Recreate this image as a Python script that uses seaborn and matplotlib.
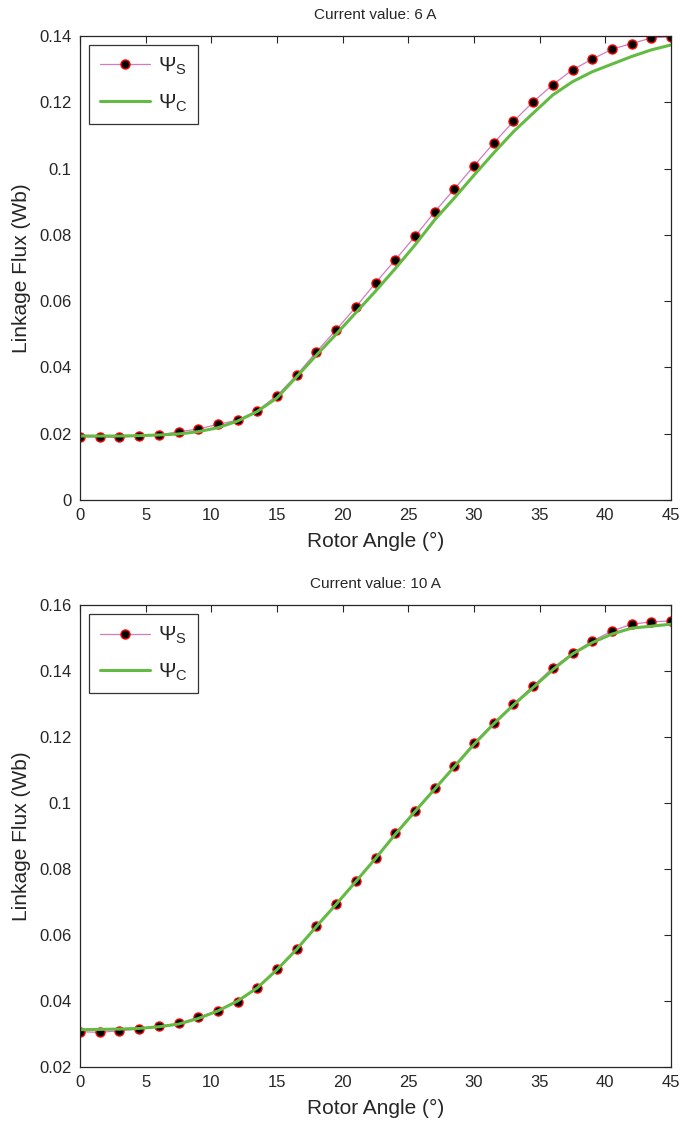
import numpy as np
import pandas as pd
import matplotlib
matplotlib.use('Agg')
import matplotlib.pyplot as plt
from matplotlib.ticker import FuncFormatter
import seaborn as sns

# rotor angle (deg), one sample every 1.5 deg
angle = [0, 1.5, 3, 4.5, 6, 7.5, 9, 10.5, 12, 13.5, 15, 16.5, 18, 19.5, 21, 22.5,
         24, 25.5, 27, 28.5, 30, 31.5, 33, 34.5, 36, 37.5, 39, 40.5, 42, 43.5, 45]

# 6 A : Psi_S (markers) and Psi_C (green)
psi_s_6 = [0.0191, 0.0189, 0.0189, 0.0193, 0.0196, 0.0206, 0.0214, 0.0228, 0.0241, 0.0269,
           0.0315, 0.0377, 0.0447, 0.0513, 0.0582, 0.0655, 0.0724, 0.0795, 0.0869, 0.0938,
           0.1008, 0.1077, 0.1142, 0.1201, 0.1253, 0.1298, 0.1330, 0.1360, 0.1377, 0.1394, 0.1398]
psi_c_6 = [0.0193, 0.0193, 0.0193, 0.0194, 0.0196, 0.0199, 0.0206, 0.0218, 0.0238, 0.0267,
           0.0308, 0.0372, 0.0437, 0.0500, 0.0565, 0.0630, 0.0698, 0.0769, 0.0845, 0.0911,
           0.0980, 0.1047, 0.1111, 0.1167, 0.1222, 0.1262, 0.1292, 0.1315, 0.1338, 0.1358, 0.1373]

# 10 A
psi_s_10 = [0.0307, 0.0305, 0.0310, 0.0315, 0.0324, 0.0332, 0.0351, 0.0371, 0.0398, 0.0438,
            0.0496, 0.0558, 0.0628, 0.0694, 0.0764, 0.0834, 0.0908, 0.0977, 0.1045, 0.1112,
            0.1183, 0.1243, 0.1300, 0.1355, 0.1410, 0.1454, 0.1491, 0.1521, 0.1542, 0.1549, 0.1552]
psi_c_10 = [0.0313, 0.0314, 0.0315, 0.0317, 0.0322, 0.0330, 0.0347, 0.0370, 0.0400, 0.0440,
            0.0495, 0.0557, 0.0626, 0.0693, 0.0762, 0.0832, 0.0905, 0.0974, 0.1042, 0.1110,
            0.1178, 0.1240, 0.1297, 0.1350, 0.1404, 0.1452, 0.1486, 0.1512, 0.1530, 0.1536, 0.1542]

currents = ['6 A', '10 A']
ylims = [(0, 0.14), (0.02, 0.16)]

sns.set_style('white')
plt.rcParams['font.family'] = ['Liberation Sans', 'DejaVu Sans']
plt.rcParams['mathtext.fontset'] = 'custom'
plt.rcParams['mathtext.rm'] = 'Liberation Sans'
plt.rcParams['mathtext.it'] = 'Liberation Sans'

fig = plt.figure(figsize=(6.82, 11.24), dpi=100)
ax1 = fig.add_axes([0.1173, 0.5552, 0.8666, 0.4128])
ax2 = fig.add_axes([0.1173, 0.0507, 0.8666, 0.4110])

data = [(psi_s_6, psi_c_6), (psi_s_10, psi_c_10)]

for ax, (ps, pc), cur, yl in zip([ax1, ax2], data, currents, ylims):
    df = pd.DataFrame({'angle': angle, 'psi_s': ps, 'psi_c': pc})
    sns.lineplot(data=df, x='angle', y='psi_s', ax=ax, color='#d27cc0', linewidth=0.9,
                 marker='o', markersize=6.5, markerfacecolor='black',
                 markeredgecolor='red', markeredgewidth=1.0, label=r'$\Psi_\mathrm{S}$')
    sns.lineplot(data=df, x='angle', y='psi_c', ax=ax, color='#63bb43', linewidth=2.2,
                 label=r'$\Psi_\mathrm{C}$')
    ax.set_xlim(0, 45)
    ax.set_ylim(*yl)
    ax.set_xticks(range(0, 46, 5))
    ax.set_yticks(np.arange(yl[0], yl[1] + 0.001, 0.02))
    ax.yaxis.set_major_formatter(FuncFormatter(lambda v, p: '%g' % round(v, 3)))
    ax.tick_params(direction='in', length=5, width=0.8, top=True, right=True,
                   labelsize=12, colors='#262626')
    ax.tick_params(axis='x', pad=6)
    ax.tick_params(axis='y', pad=6)
    for sp in ax.spines.values():
        sp.set_visible(True)
        sp.set_color('#262626')
        sp.set_linewidth(0.9)
    ax.set_xlabel('Rotor Angle (°)', fontsize=15, labelpad=6)
    ax.set_ylabel('Linkage Flux (Wb)', fontsize=15, labelpad=6)
    ax.set_title('Current value: ' + cur, fontsize=11, pad=12)
    leg = ax.legend(loc='upper left', fontsize=15, frameon=True, fancybox=False,
                    edgecolor='black', handlelength=2.4, borderaxespad=0.45,
                    labelspacing=0.75, handletextpad=0.4, borderpad=0.5)
    leg.get_frame().set_linewidth(0.9)

fig.savefig('out.png', dpi=100)
